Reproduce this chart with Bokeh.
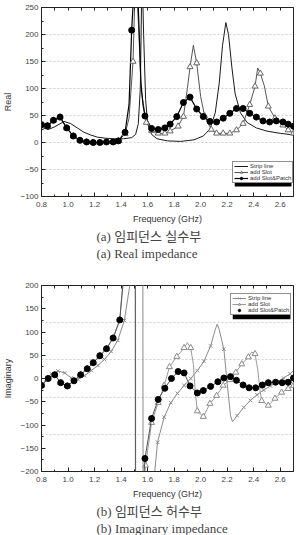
from bokeh.plotting import figure
from bokeh.models import (LinearAxis, FixedTicker, Legend, LegendItem, BoxAnnotation,
                          Title, NumeralTickFormatter)
from bokeh.layouts import column
from bokeh.embed import file_html
from bokeh.resources import INLINE

# ---------------- Real part of the impedance (Ohm) ----------------
# Slot & Patch: marker samples and extra (unmarked) samples along the resonance
re_sp_f = [0.80, 0.845, 0.89, 0.94, 0.99, 1.04, 1.09, 1.14, 1.19, 1.24, 1.29, 1.34, 1.38, 1.43, 1.48,
           1.58, 1.63, 1.68, 1.73, 1.77, 1.82, 1.87, 1.92, 1.97, 2.02, 2.07, 2.12, 2.17, 2.22, 2.27,
           2.32, 2.37, 2.42, 2.47, 2.52, 2.57, 2.62, 2.66, 2.70]
re_sp_v = [33, 31, 41, 47, 27, 12, 4, 1, 0, 0, 1, 1, 3, 19, 208,
           49, 26, 24, 27, 34, 48, 74, 84, 62, 48, 39, 38, 45, 54, 63,
           63, 54, 47, 40, 38, 40, 38, 34, 30]
re_sp_xf = [1.46, 1.505, 1.53, 1.55, 1.565]
re_sp_xv = [70, 320, 250, 110, 70]

# add Slot
re_sl_f = [0.80, 0.845, 0.89, 0.94, 0.99, 1.04, 1.09, 1.14, 1.19, 1.24, 1.29, 1.34, 1.38, 1.43, 1.49,
           1.59, 1.63, 1.68, 1.73, 1.77, 1.83, 1.87, 1.92, 1.97, 2.03, 2.08, 2.12, 2.17, 2.22, 2.27,
           2.32, 2.37, 2.41, 2.45, 2.51, 2.56, 2.62, 2.66, 2.70]
re_sl_v = [33, 31, 41, 47, 27, 12, 4, 1, 0, 0, 1, 1, 3, 16, 150,
           37, 22, 17, 17, 21, 30, 48, 140, 147, 49, 24, 17, 17, 17, 23,
           35, 70, 104, 128, 67, 45, 32, 23, 17]
re_sl_xf = [1.46, 1.51, 1.535, 1.55, 1.90, 1.945, 2.00, 2.43, 2.48]
re_sl_xv = [45, 320, 200, 100, 100, 180, 85, 138, 105]

# Strip line
re_st_f = [0.80, 0.85, 0.90, 0.97, 1.02, 1.07, 1.12, 1.17, 1.22, 1.28, 1.35, 1.42, 1.48, 1.51, 1.53,
           1.545, 1.558, 1.57, 1.585, 1.60, 1.63, 1.67, 1.75, 1.85, 1.95, 2.02, 2.07, 2.11, 2.14,
           2.165, 2.19, 2.21, 2.235, 2.26, 2.30, 2.35, 2.42, 2.50, 2.60, 2.70]
re_st_v = [28, 24, 29, 39, 35, 27, 19, 14, 10, 8, 7, 7, 9, 15, 35,
           100, 320, 200, 80, 35, 15, 7, 3, 2, 5, 12, 25, 55, 110,
           180, 222, 200, 140, 90, 55, 37, 27, 21, 17, 14]

# ---------------- Imaginary part of the impedance (Ohm) ----------------
im_sp_f = [0.80, 0.85, 0.90, 0.945, 0.995, 1.045, 1.095, 1.145, 1.19, 1.24, 1.29, 1.34, 1.39,
           1.58, 1.63, 1.68, 1.73, 1.78, 1.83, 1.875, 1.92, 1.975, 2.02, 2.075, 2.13, 2.175, 2.225,
           2.27, 2.32, 2.365, 2.415, 2.465, 2.51, 2.565, 2.615, 2.66, 2.70]
im_sp_v = [-15, 0, 8, -9, -16, -5, 8, 21, 34, 49, 64, 87, 126,
           -172, -86, -45, -21, 0, 15, 12, -16, -31, -26, -17, -7, 1, 4,
           -4, -14, -20, -20, -14, -9, -8, -9, -8, 1]
im_sp_xf = [1.42, 1.46, 1.505, 1.51, 1.55]
im_sp_xv = [220, 400, 900, -900, -320]

im_sl_f = [0.80, 0.85, 0.90, 0.945, 0.995, 1.045, 1.095, 1.145, 1.19, 1.24, 1.29, 1.34, 1.39,
           1.585, 1.63, 1.68, 1.725, 1.765, 1.82, 1.875, 1.925, 1.975, 2.02, 2.07, 2.12, 2.17, 2.22,
           2.265, 2.31, 2.36, 2.41, 2.46, 2.51, 2.56, 2.61, 2.66, 2.70]
im_sl_v = [-15, 0, 8, -9, -16, -5, 8, 21, 34, 49, 64, 87, 126,
           -187, -95, -52, -15, 25, 47, 66, 66, -70, -82, -54, -37, -15, -3,
           13, 31, 46, 53, -48, -58, -43, -30, -22, -15]
im_sl_xf = [1.42, 1.46, 1.507, 1.512, 1.56, 1.90, 1.945, 1.96, 2.385, 2.43, 2.445]
im_sl_xv = [230, 400, 900, -900, -260, 77, 30, -30, 57, 20, -20]

im_st_f = [0.875, 0.925, 0.975, 1.025, 1.075, 1.125, 1.175, 1.225, 1.275, 1.325, 1.375, 1.425,
           1.675, 1.725, 1.775, 1.825, 1.875, 1.925, 1.975, 2.025, 2.075, 2.175,
           2.275, 2.325, 2.375, 2.425, 2.475, 2.525, 2.575, 2.625, 2.675]
im_st_v = [10, 16, 12, 1, -2, 6, 17, 28, 41, 58, 82, 125,
           -137, -83, -52, -32, -15, 0, 17, 37, 70, 63,
           -80, -62, -47, -35, -25, -16, -8, 1, 10]
im_st_xf = [0.80, 0.835, 1.46, 1.49, 1.562, 1.568, 1.62, 2.11, 2.125, 2.14, 2.20, 2.225, 2.24, 2.70]
im_st_xv = [-22, 0, 190, 240, 900, -900, -300, 105, 117, 105, -10, -80, -93, 17]

freq_ticks = [0.8, 1.0, 1.2, 1.4, 1.6, 1.8, 2.0, 2.2, 2.4, 2.6]
freq_minor = [0.9, 1.1, 1.3, 1.5, 1.7, 1.9, 2.1, 2.3, 2.5, 2.7]
re_ticks = [-100, -50, 0, 50, 100, 150, 200, 250]
im_ticks = [-200, -150, -100, -50, 0, 50, 100, 150, 200]

SERIF_KR = "'Liberation Serif', 'Noto Sans CJK KR'"
SANS = "'Liberation Sans'"


def merged(mf, mv, ef, ev):
    pts = sorted(zip(list(mf) + list(ef), list(mv) + list(ev)))
    return [a for a, _ in pts], [b for _, b in pts]


def style_axis(ax, ticker):
    ax.ticker = ticker
    ax.major_tick_in = 4
    ax.major_tick_out = 0
    ax.minor_tick_in = 2
    ax.minor_tick_out = 0
    ax.axis_line_color = "#222222"
    ax.major_tick_line_color = "#222222"
    ax.minor_tick_line_color = "#222222"
    ax.major_label_text_font = SANS
    ax.major_label_text_font_size = "8px"
    ax.major_label_text_color = "#444444"
    ax.axis_label_text_font = SANS
    ax.axis_label_text_font_size = "9px"
    ax.axis_label_text_font_style = "normal"
    ax.axis_label_text_color = "#333333"


def make_fig(height, top, bottom, y_range, ylabel, yticks, yminor, grid):
    p = figure(width=297, height=height, x_range=(0.8, 2.7), y_range=y_range,
               output_backend="svg", toolbar_location=None,
               min_border_left=40, min_border_right=4,
               min_border_top=top, min_border_bottom=bottom)
    p.outline_line_color = "#222222"
    p.background_fill_color = "white"
    style_axis(p.xaxis[0], FixedTicker(ticks=freq_ticks, minor_ticks=freq_minor))
    p.xaxis[0].formatter = NumeralTickFormatter(format="0.0")
    p.xaxis[0].axis_label = "Frequency (GHz)"
    p.xaxis[0].major_label_standoff = 5
    p.xaxis[0].axis_label_standoff = 4
    style_axis(p.yaxis[0], FixedTicker(ticks=yticks, minor_ticks=yminor))
    p.yaxis[0].axis_label = ylabel
    p.yaxis[0].major_label_standoff = 3
    p.yaxis[0].axis_label_standoff = 4
    # mirrored inward ticks along the top edge (no labels)
    top_ax = LinearAxis(ticker=FixedTicker(ticks=[], minor_ticks=freq_ticks + freq_minor))
    top_ax.minor_tick_in = 3
    top_ax.minor_tick_out = 0
    top_ax.minor_tick_line_color = "#222222"
    top_ax.axis_line_color = None
    top_ax.major_label_standoff = 0
    top_ax.axis_label_standoff = 0
    p.add_layout(top_ax, "above")
    p.xgrid.visible = False
    p.ygrid.ticker = FixedTicker(ticks=grid)
    p.ygrid.grid_line_color = "#cfcfcf"
    p.ygrid.grid_line_dash = "2 2"
    p.ygrid.grid_line_width = 1
    return p


def caption(p, text):
    p.add_layout(Title(text=text, align="left", offset=55, text_font=SERIF_KR,
                       text_font_size="13px", text_font_style="normal", standoff=0), "below")


# ---------------- Figure (a): real part ----------------
pa = make_fig(266, 7, 70, (-100, 250), "Real", re_ticks,
              [-75, -25, 25, 75, 125, 175, 225], [-50, 0, 50, 100, 150, 200])

f, v = merged(re_st_f, re_st_v, [], [])
a_st = pa.line(f, v, line_color="#1a1a1a", line_width=1)
f, v = merged(re_sl_f, re_sl_v, re_sl_xf, re_sl_xv)
a_sl = pa.line(f, v, line_color="#555555", line_width=1)
f, v = merged(re_sp_f, re_sp_v, re_sp_xf, re_sp_xv)
a_sp = pa.line(f, v, line_color="#000000", line_width=1.2)
a_slm = pa.scatter(re_sl_f, re_sl_v, marker="triangle", size=6, fill_color="white",
                   line_color="#666666", line_width=1)
a_spm = pa.scatter(re_sp_f, re_sp_v, marker="circle", size=6, fill_color="black",
                   line_color="black")

# legend drop shadow
pa.add_layout(BoxAnnotation(left=2.257, right=2.685, bottom=-81.5, top=-38.9,
                            fill_color="black", fill_alpha=1, line_color=None))
leg_a = Legend(items=[LegendItem(label="Strip line", renderers=[a_st]),
                      LegendItem(label="add Slot", renderers=[a_sl, a_slm]),
                      LegendItem(label="add Slot&Patch", renderers=[a_sp, a_spm])],
               location=(191, 13))
pa.add_layout(leg_a)
caption(pa, "(a) 임피던스 실수부")
caption(pa, "(a) Real impedance")

# ---------------- Figure (b): imaginary part ----------------
pb = make_fig(269, 19, 63, (-200, 200), "Imaginary", im_ticks,
              [-175, -125, -75, -25, 25, 75, 125, 175], [-120, -40, 40, 120])

f, v = merged(im_st_f, im_st_v, im_st_xf, im_st_xv)
b_st = pb.line(f, v, line_color="#8a8a8a", line_width=1)
b_stm = pb.scatter(im_st_f, im_st_v, marker="x", size=5, line_color="#8a8a8a", line_width=1)
f, v = merged(im_sl_f, im_sl_v, im_sl_xf, im_sl_xv)
b_sl = pb.line(f, v, line_color="#9a9a9a", line_width=1)
b_slm = pb.scatter(im_sl_f, im_sl_v, marker="triangle", size=6, fill_color="white",
                   line_color="#8a8a8a", line_width=1)
f, v = merged(im_sp_f, im_sp_v, im_sp_xf, im_sp_xv)
b_sp = pb.line(f, v, line_color="#555555", line_width=1)
b_spm = pb.scatter(im_sp_f, im_sp_v, marker="circle", size=6, fill_color="black",
                   line_color="black")

pb.add_layout(BoxAnnotation(left=2.242, right=2.677, bottom=127.3, top=176.5,
                            fill_color="black", fill_alpha=1, line_color=None))
leg_b = Legend(items=[LegendItem(label="Strip line", renderers=[b_st, b_stm]),
                      LegendItem(label="add Slot", renderers=[b_sl, b_slm]),
                      LegendItem(label="add Slot&Patch", renderers=[b_spm])],
               location=(189, 156))
pb.add_layout(leg_b)
caption(pb, "(b) 임피던스 허수부")
caption(pb, "(b) Imaginary impedance")

for lg in (leg_a, leg_b):
    lg.border_line_color = "#222222"
    lg.border_line_width = 1
    lg.background_fill_color = "white"
    lg.background_fill_alpha = 1
    lg.label_text_font = SANS
    lg.label_text_font_size = "6px"
    lg.label_text_color = "#333333"
    lg.label_height = 6
    lg.glyph_height = 6
    lg.glyph_width = 14
    lg.label_standoff = 2
    lg.spacing = 0
    lg.padding = 1
    lg.margin = 0

layout = column(pa, pb, spacing=0)
open("out.html", "w").write(file_html(layout, INLINE))
